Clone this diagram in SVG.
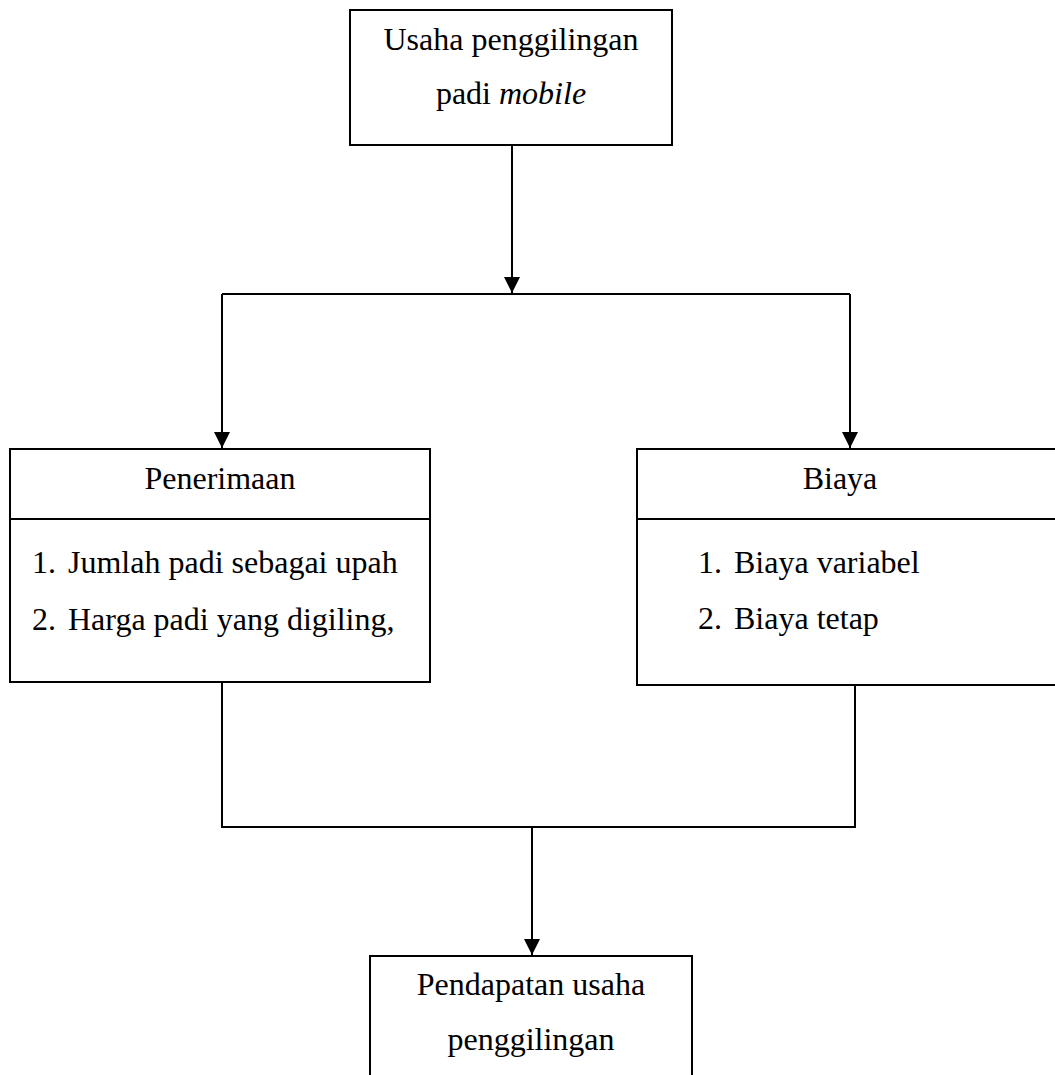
<svg xmlns="http://www.w3.org/2000/svg" width="1055" height="1075" viewBox="0 0 1055 1075">
<style>
.box{fill:#fff;stroke:#000;stroke-width:2}
.ln{fill:none;stroke:#000;stroke-width:2}
.c{text-anchor:middle}
</style>
<defs>
<marker id="ah" viewBox="0 0 16 16" refX="16" refY="8" markerWidth="16" markerHeight="16" markerUnits="userSpaceOnUse" orient="auto">
<path d="M0,0 L16,8 L0,16 Z" fill="#000"/>
</marker>
</defs>
<rect width="1055" height="1075" fill="#fff"/>
<g id="connectors">
<line class="ln" x1="512" y1="145" x2="512" y2="293" marker-end="url(#ah)"/>
<polyline class="ln" points="222,294 850,294"/>
<line class="ln" x1="222" y1="294" x2="222" y2="448" marker-end="url(#ah)"/>
<line class="ln" x1="850" y1="294" x2="850" y2="448" marker-end="url(#ah)"/>
<polyline class="ln" points="222,682 222,827 855,827 855,685"/>
<line class="ln" x1="532" y1="827" x2="532" y2="955" marker-end="url(#ah)"/>
</g>
<g font-family="'Liberation Serif', 'Times New Roman', serif" font-size="32" fill="#000">
<g id="node-usaha">
<rect class="box" x="350" y="10" width="322" height="135"/>
<text class="c" x="511" y="50">Usaha penggilingan</text>
<text class="c" x="511" y="104">padi <tspan font-style="italic">mobile</tspan></text>
</g>
<g id="node-penerimaan">
<rect class="box" x="10" y="449" width="420" height="233"/>
<line class="ln" x1="10" y1="519" x2="430" y2="519"/>
<text class="c" x="220" y="489">Penerimaan</text>
<text x="32" y="573">1.</text><text x="68" y="573">Jumlah padi sebagai upah</text>
<text x="32" y="630">2.</text><text x="68" y="630">Harga padi yang digiling,</text>
</g>
<g id="node-biaya">
<rect class="box" x="637" y="449" width="430" height="236"/>
<line class="ln" x1="637" y1="519" x2="1060" y2="519"/>
<text class="c" x="840" y="489">Biaya</text>
<text x="698" y="573">1.</text><text x="734" y="573">Biaya variabel</text>
<text x="698" y="629">2.</text><text x="734" y="629">Biaya tetap</text>
</g>
<g id="node-pendapatan">
<rect class="box" x="370" y="956" width="322" height="130"/>
<text class="c" x="531" y="995">Pendapatan usaha</text>
<text class="c" x="531" y="1050">penggilingan</text>
</g>
</g>
</svg>
